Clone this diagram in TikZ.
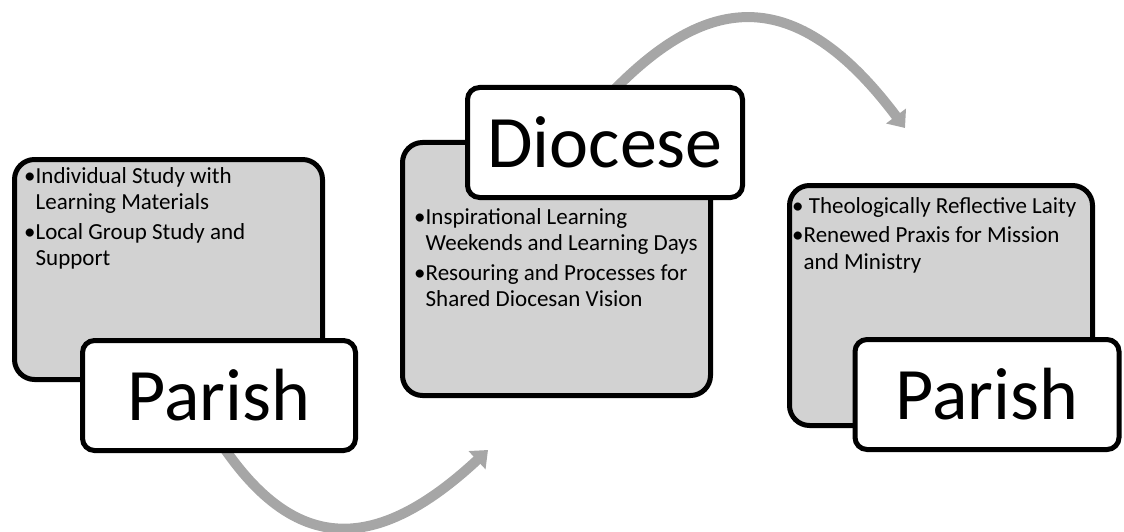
\documentclass[tikz,border=0pt]{standalone}
\usepackage{fontspec}
\setmainfont{Carlito}
\usetikzlibrary{arrows.meta}
\tikzset{
        stage/.style={draw=black, line width=5pt, rounded corners=20pt, fill=gray!35, inner sep=0pt},
        tag/.style={draw=black, line width=5pt, rounded corners=12pt, fill=white, inner sep=0pt,
          minimum height=110pt, font=\fontsize{74}{80}\selectfont},
        points/.style={anchor=north west, inner sep=0pt, align=left, font=\fontsize{23}{26.5}\selectfont},
        flow/.style={draw=gray!70, line width=10pt, -{Triangle[length=15pt,width=24pt]}},
          }
\begin{document}
\begin{tikzpicture}[x=1pt,y=-1pt]
        \useasboundingbox (0,0) rectangle (1124,532);
        % arrows go under the boxes
        \coordinate (fromA) at (222,445);
        \coordinate (toA) at (488,450);
        \coordinate (fromB) at (612,92);
        \coordinate (toB) at (905,128);
        \draw[flow] (fromA) .. controls (295,553) and (375,555) .. (toA);
        \draw[flow] (fromB) .. controls (698,4) and (788,-28) .. (toB);
        % first parish
        \node[stage, minimum width=308pt, minimum height=220pt] (parishA) at (168.5,269.5) {};
        \node[points] (textA) at (24,167) {\textbullet Individual Study with\\
          \phantom{\textbullet}Learning Materials\\[3pt]
          \textbullet Local Group Study and\\
          \phantom{\textbullet}Support};
        \node[tag, minimum width=273pt] (tagA) at (219,395.5) {Parish};
        % diocese
        \node[stage, minimum width=308pt, minimum height=253pt] (diocese) at (556.5,269) {};
        \node[points] (textD) at (414,208) {\textbullet Inspirational Learning\\
          \phantom{\textbullet}Weekends and Learning Days\\[3pt]
          \textbullet Resouring and Processes for\\
          \phantom{\textbullet}Shared Diocesan Vision};
        \node[tag, minimum width=275pt] (tagD) at (605,142.5) {Diocese};
        % second parish
        \node[stage, minimum width=303pt, minimum height=240pt] (parishB) at (941,305.5) {};
        \node[points] (textB) at (792,197) {\textbullet\ Theologically Reflective Laity\\[3pt]
          \textbullet Renewed Praxis for Mission\\
          \phantom{\textbullet}and Ministry};
        \node[tag, minimum width=264pt] (tagB) at (987,394.5) {Parish};
\end{tikzpicture}
\end{document}
